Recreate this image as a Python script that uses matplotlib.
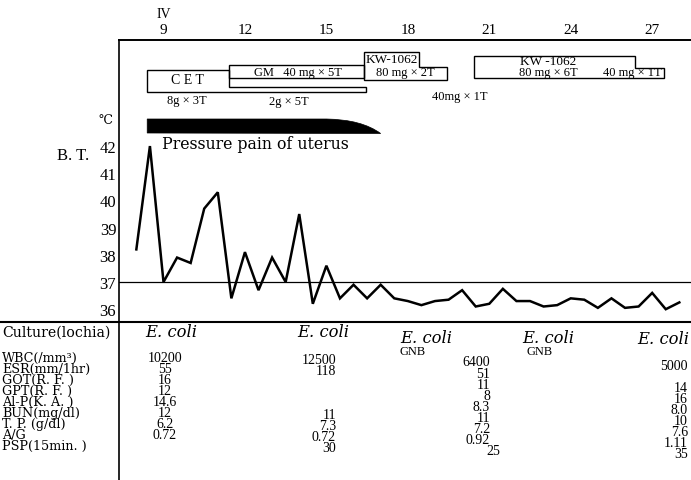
import matplotlib
matplotlib.use('Agg')
import matplotlib.pyplot as plt
from matplotlib.transforms import Affine2D, blended_transform_factory
from matplotlib.patches import Polygon, PathPatch
from matplotlib.path import Path
from matplotlib.lines import Line2D

# ---------------- data ----------------
days = [8.0, 8.5, 9.0, 9.5, 10.0, 10.5, 11.0, 11.5, 12.0, 12.5, 13.0, 13.5, 14.0, 14.5,
        15.0, 15.5, 16.0, 16.5, 17.0, 17.5, 18.0, 18.5, 19.0, 19.5, 20.0, 20.5, 21.0,
        21.5, 22.0, 22.5, 23.0, 23.5, 24.0, 24.5, 25.0, 25.5, 26.0, 26.5, 27.0, 27.5, 28.0]
temps = [38.2, 42.0, 37.0, 37.9, 37.7, 39.7, 40.3, 36.4, 38.1, 36.7, 37.9, 37.0, 39.5, 36.2,
         37.6, 36.4, 36.9, 36.4, 36.9, 36.4, 36.3, 36.15, 36.3, 36.35, 36.7, 36.1, 36.2,
         36.75, 36.3, 36.3, 36.1, 36.15, 36.4, 36.35, 36.05, 36.4, 36.05, 36.1, 36.6, 36.0, 36.25]

day_ticks = [9, 12, 15, 18, 21, 24, 27]
day_labels = ['9', '12', '15', '18', '21', '24', '27']
month_label = 'IV'
temp_ticks = [36, 37, 38, 39, 40, 41, 42]
temp_labels = ['36', '37', '38', '39', '40', '41', '42']
normal_temp = 37

# treatment periods (days)
cet_start, cet_switch, cet_end = 8.4, 11.4, 16.45
gm_start, gm_end = 11.4, 16.4
kw1_start, kw1_step, kw1_end = 16.4, 18.4, 19.45
kw2_start, kw2_step, kw2_end = 20.45, 26.35, 27.45
pain_start, pain_end = 8.4, 17.0

row_labels = ['WBC(/mm³)', 'ESR(mm/1hr)', 'GOT(R. F. )', 'GPT(R. F. )', 'Al-P(K. A. )',
              'BUN(mg/dl)', 'T. P. (g/dl)', 'A/G', 'PSP(15min. )']
culture = ['E. coli', 'E. coli', 'E. coli', 'E. coli', 'E. coli']
culture_extra = ['', '', 'GNB', 'GNB', '']
col1 = ['10200', '55', '16', '12', '14.6', '12', '6.2', '0.72', '']
col2 = ['12500', '118', '', '', '', '11', '7.3', '0.72', '30']
col3 = ['6400', '51', '11', '8', '8.3', '11', '7.2', '0.92', '']
col4 = ['', '', '', '', '', '', '', '', '25']
col5 = ['5000', '', '14', '16', '8.0', '10', '7.6', '1.11', '35']

# ---------------- layout ----------------
W, H = 691, 481
fig = plt.figure(figsize=(W / 100, H / 100), dpi=100)
fig.patch.set_facecolor('white')
tp = Affine2D().scale(1 / W, -1 / H).translate(0, 1) + fig.transFigure  # pixel coords from top-left

ax_l, ax_r, ax_t, ax_b = 119, 691, 41, 323
ax = fig.add_axes([ax_l / W, 1 - ax_b / H, (ax_r - ax_l) / W, (ax_b - ax_t) / H])
ax.set_facecolor('none')
ax.set_xlim(7.361, 28.43)
ax.set_ylim(35.53, 45.90)
bt = blended_transform_factory(ax.transData, tp)

SERIF = ['DejaVu Serif', 'DejaVu Sans']
NUM = ['Liberation Serif', 'DejaVu Serif', 'DejaVu Sans']

for s in ['right', 'bottom']:
    ax.spines[s].set_visible(False)
ax.spines['top'].set_linewidth(1.4)
ax.spines['left'].set_linewidth(1.2)

ax.xaxis.tick_top()
ax.set_xticks(day_ticks)
ax.set_xticklabels(day_labels, fontfamily=NUM, fontsize=11)
ax.tick_params(axis='x', length=0, pad=3)
ax.set_yticks(temp_ticks)
ax.set_yticklabels(temp_labels, fontfamily=NUM, fontsize=12)
ax.tick_params(axis='y', length=0, pad=2)

ax.text(day_ticks[0], 15, month_label, transform=bt, ha='center', va='center',
        fontfamily=NUM, fontsize=10)

# temperature curve
ax.axhline(normal_temp, color='black', lw=0.9)
ax.plot(days, temps, color='black', lw=1.8, solid_joinstyle='miter', clip_on=False)

# extra lines (table frame)
fig.add_artist(Line2D([0, W], [ax_b, ax_b], transform=tp, color='black', lw=1.5))
fig.add_artist(Line2D([ax_l, ax_l], [ax_b, H], transform=tp, color='black', lw=1.2))

# pressure pain bar
verts = [(pain_start, 120), (15.0, 120), (16.3, 120.5), (pain_end, 134.5),
         (pain_start, 134), (pain_start, 120)]
codes = [Path.MOVETO, Path.LINETO, Path.CURVE3, Path.CURVE3, Path.LINETO, Path.CLOSEPOLY]
ax.add_patch(PathPatch(Path(verts, codes), transform=bt, facecolor='black',
                       edgecolor='black', lw=0.5, clip_on=False))
fig.text(162 / W, 1 - 145 / H, 'Pressure pain of uterus', fontfamily=SERIF,
         fontsize=11.3, ha='left', va='center')

# treatment boxes
box_kw = dict(transform=bt, fill=False, edgecolor='black', lw=1.0, clip_on=False,
              joinstyle='miter')
ax.add_patch(Polygon([(cet_start, 71), (cet_switch, 71), (cet_switch, 88), (cet_end, 88),
                      (cet_end, 93), (cet_start, 93)], closed=True, **box_kw))
ax.add_patch(Polygon([(gm_start, 66), (gm_end, 66), (gm_end, 79), (gm_start, 79)],
                     closed=True, **box_kw))
ax.add_patch(Polygon([(kw1_start, 53), (kw1_step, 53), (kw1_step, 68), (kw1_end, 68),
                      (kw1_end, 81), (kw1_start, 81)], closed=True, **box_kw))
ax.add_patch(Polygon([(kw2_start, 57), (kw2_step, 57), (kw2_step, 69), (kw2_end, 69),
                      (kw2_end, 79), (kw2_start, 79)], closed=True, **box_kw))

def ptext(x, y, s, size=9, fam=NUM, ha='center', **kw):
    fig.text(x / W, 1 - y / H, s, fontfamily=fam, fontsize=size, ha=ha, va='center', **kw)

ptext(187, 81, 'C E T', 10)
ptext(187, 101, '8g × 3T', 9)
ptext(298, 73, 'GM   40 mg × 5T', 9)
ptext(289, 102, '2g × 5T', 9)
ptext(392, 60, 'KW-1062', 9.5)
ptext(405, 73, '80 mg × 2T', 9)
ptext(460, 97, '40mg × 1T', 9)
ptext(548, 62, 'KW -1062', 9.5)
ptext(548, 73, '80 mg × 6T', 9)
ptext(632, 73, '40 mg × 1T', 9)

# y-axis titles
ptext(105, 120, '℃', 9, fam=SERIF)
ptext(73, 156, 'B. T.', 12, fam=NUM)

# ---------------- table ----------------
ptext(2, 333, 'Culture(lochia)', 10.2, fam=SERIF, ha='left')
row_y0, row_dy = 358, 11.1
for i, lab in enumerate(row_labels):
    ptext(2, row_y0 + i * row_dy, lab, 9.2, fam=SERIF, ha='left')

head_x = [145, 297, 400, 522, 637]
head_y = [333, 333, 339, 339, 340]
gnb_x = [0, 0, 413, 540, 0]
for hx, hy, c in zip(head_x, head_y, culture):
    ptext(hx, hy, c, 11.8, fam=SERIF, ha='left', style='italic')
for gx, hy, extra in zip(gnb_x, head_y, culture_extra):
    if extra:
        ptext(gx, hy + 13, extra, 9)

cols = [col1, col2, col3, col4, col5]
col_x = [165, 336, 490, 500, 688]
col_ha = ['center', 'right', 'right', 'right', 'right']
col_off = [0, 2, 5, 5, 8]
for col, cx, ha, off in zip(cols, col_x, col_ha, col_off):
    for i, v in enumerate(col):
        if v:
            ptext(cx, row_y0 + i * row_dy + off, v, 10, ha=ha)

fig.savefig('out.png', dpi=100, facecolor='white')
